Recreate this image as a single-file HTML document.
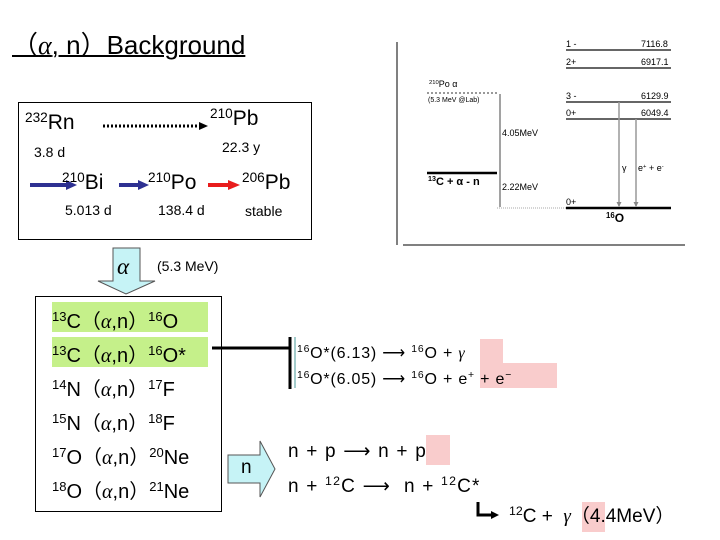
<!DOCTYPE html>
<html><head><meta charset="utf-8"><style>
body{margin:0;width:720px;height:540px;background:#fff;position:relative;overflow:hidden;font-family:"Liberation Sans","Noto Sans CJK JP",sans-serif;color:#000}
.a{position:absolute;white-space:nowrap;line-height:1}
sup{font-size:0.65em;vertical-align:0;position:relative;top:-0.55em}
.g{font-style:italic;font-family:"Liberation Serif",serif}
</style></head><body>
<div class="a" style="left:12px;top:32px;font-size:26px;text-decoration:underline;text-decoration-thickness:2px">（<span class="g">α</span>, n）Background</div>
<div class="a" style="left:18px;top:102px;width:294px;height:138px;border:1px solid #000;box-sizing:border-box"></div>
<svg width="720" height="540" style="position:absolute;left:0;top:0">
<defs>
<marker id="ag" markerWidth="5" markerHeight="5" refX="4" refY="2.5" orient="auto" markerUnits="userSpaceOnUse"><path d="M0,0L5,2.5L0,5z" fill="#888"/></marker>
</defs>
<line x1="103" y1="126" x2="200" y2="126" stroke="#000" stroke-width="3" stroke-dasharray="2,2"/>
<path d="M199,122L208,126L199,130z"/>
<line x1="30" y1="185" x2="68" y2="185" stroke="#2e3192" stroke-width="4"/><path d="M66,180L77,185L66,190z" fill="#2e3192"/>
<line x1="119" y1="185" x2="140" y2="185" stroke="#2e3192" stroke-width="4"/><path d="M138,180L149,185L138,190z" fill="#2e3192"/>
<line x1="208" y1="185" x2="230" y2="185" stroke="#e81c1c" stroke-width="4"/><path d="M228,180L240,185L228,190z" fill="#e81c1c"/>
<path d="M113,248H140V281H155L126,294L98,281H113z" fill="#c6f3f6" stroke="#555" stroke-width="1"/>
<line x1="397" y1="42" x2="397" y2="245" stroke="#000"/>
<line x1="403" y1="245" x2="685" y2="245" stroke="#000"/>
<g stroke="#333" stroke-width="1.5"><line x1="566" y1="50" x2="671" y2="50"/><line x1="566" y1="68" x2="671" y2="68"/><line x1="566" y1="102" x2="671" y2="102"/><line x1="566" y1="119" x2="671" y2="119"/></g>
<line x1="566" y1="208" x2="671" y2="208" stroke="#000" stroke-width="2.5"/>
<line x1="427" y1="93" x2="499" y2="93" stroke="#333" stroke-dasharray="2,2"/>
<line x1="427" y1="173" x2="497" y2="173" stroke="#000" stroke-width="2.5"/>
<line x1="497" y1="208" x2="566" y2="208" stroke="#aaa" stroke-dasharray="1,1"/>
<line x1="500" y1="94" x2="500" y2="207" stroke="#444"/>
<line x1="619" y1="102" x2="619" y2="206" stroke="#999" stroke-width="1.5" marker-end="url(#ag)"/>
<line x1="636" y1="119" x2="636" y2="206" stroke="#999" stroke-width="1.5" marker-end="url(#ag)"/>
<line x1="212" y1="348" x2="290" y2="348" stroke="#000" stroke-width="3"/>
<line x1="290" y1="337" x2="290" y2="389" stroke="#000" stroke-width="3"/>
<line x1="295" y1="337" x2="295" y2="388" stroke="#4a9a9a" stroke-width="1"/>
<path d="M228,455H260V441L275,469L260,497V483H228z" fill="#c6f3f6" stroke="#555"/>
<path d="M478,502V515H493" fill="none" stroke="#000" stroke-width="3"/><path d="M491,511L499,515L491,519z"/>
</svg>
<div class="a" style="left:25px;top:112px;font-size:21px"><sup>232</sup>Rn</div>
<div class="a" style="left:210px;top:108px;font-size:21px"><sup>210</sup>Pb</div>
<div class="a" style="left:34px;top:145px;font-size:14px">3.8 d</div>
<div class="a" style="left:222px;top:140px;font-size:14px">22.3 y</div>
<div class="a" style="left:62px;top:172px;font-size:21px"><sup>210</sup>Bi</div>
<div class="a" style="left:148px;top:172px;font-size:21px"><sup>210</sup>Po</div>
<div class="a" style="left:242px;top:172px;font-size:21px"><sup>206</sup>Pb</div>
<div class="a" style="left:65px;top:203px;font-size:14px">5.013 d</div>
<div class="a" style="left:158px;top:203px;font-size:14px">138.4 d</div>
<div class="a" style="left:245px;top:204px;font-size:14px">stable</div>
<div class="a g" style="left:117px;top:255px;font-size:23px">α</div>
<div class="a" style="left:157px;top:259px;font-size:14px">(5.3 MeV)</div>
<div class="a" style="left:35px;top:296px;width:187px;height:216px;border:1px solid #000;box-sizing:border-box"></div>
<div class="a" style="left:52px;top:302px;width:156px;height:30px;background:#c5f08a"></div>
<div class="a" style="left:52px;top:337px;width:156px;height:30px;background:#c5f08a"></div>
<div class="a" style="left:52px;top:306px;font-size:20px;line-height:33px"><sup>13</sup>C（<span class="g">α</span>,n）<sup>16</sup>O<br><sup>13</sup>C（<span class="g">α</span>,n）<sup>16</sup>O*<br><sup>14</sup>N（<span class="g">α</span>,n）<sup>17</sup>F<br><sup>15</sup>N（<span class="g">α</span>,n）<sup>18</sup>F<br><sup>17</sup>O（<span class="g">α</span>,n）<sup>20</sup>Ne<br><sup>18</sup>O（<span class="g">α</span>,n）<sup>21</sup>Ne</div>
<div class="a" style="left:480px;top:339px;width:23px;height:24px;background:#f9cccc"></div>
<div class="a" style="left:480px;top:363px;width:77px;height:25px;background:#f9cccc"></div>
<div class="a" style="left:297px;top:342px;font-size:16px;line-height:24px;letter-spacing:0.8px"><sup>16</sup>O*(6.13) ⟶ <sup>16</sup>O + <span class="g">γ</span><br><sup>16</sup>O*(6.05) ⟶ <sup>16</sup>O + e<sup>+</sup> + e<sup>−</sup></div>
<div class="a" style="left:241px;top:458px;font-size:19px">n</div>
<div class="a" style="left:426px;top:435px;width:24px;height:30px;background:#f9cccc"></div>
<div class="a" style="left:288px;top:442px;font-size:19px;letter-spacing:1.2px">n + p ⟶ n + p</div>
<div class="a" style="left:288px;top:477px;font-size:19px;letter-spacing:1.2px">n + <sup>12</sup>C ⟶ &nbsp;n + <sup>12</sup>C*</div>
<div class="a" style="left:582px;top:502px;width:23px;height:30px;background:#f9cccc"></div>
<div class="a" style="left:509px;top:507px;font-size:19px"><sup>12</sup>C + &nbsp;<span class="g">γ</span>（4.4MeV）</div>
<div class="a" style="left:566px;top:40px;font-size:9px">1 -</div><div class="a" style="left:641px;top:40px;font-size:9px">7116.8</div>
<div class="a" style="left:566px;top:58px;font-size:9px">2+</div><div class="a" style="left:641px;top:58px;font-size:9px">6917.1</div>
<div class="a" style="left:566px;top:92px;font-size:9px">3 -</div><div class="a" style="left:641px;top:92px;font-size:9px">6129.9</div>
<div class="a" style="left:566px;top:109px;font-size:9px">0+</div><div class="a" style="left:641px;top:109px;font-size:9px">6049.4</div>
<div class="a" style="left:566px;top:198px;font-size:9px">0+</div>
<div class="a" style="left:429px;top:80px;font-size:9px"><sup>210</sup>Po α</div>
<div class="a" style="left:428px;top:97px;font-size:7px">(5.3 MeV @Lab)</div>
<div class="a" style="left:502px;top:129px;font-size:9px">4.05MeV</div>
<div class="a" style="left:502px;top:183px;font-size:9px">2.22MeV</div>
<div class="a" style="left:428px;top:177px;font-size:11px;font-weight:bold"><sup>13</sup>C + α - n</div>
<div class="a" style="left:622px;top:164px;font-size:9px">γ</div>
<div class="a" style="left:638px;top:164px;font-size:9px">e<sup>+</sup> + e<sup>-</sup></div>
<div class="a" style="left:606px;top:212px;font-size:12px;font-weight:bold"><sup>16</sup>O</div>
</body></html>
